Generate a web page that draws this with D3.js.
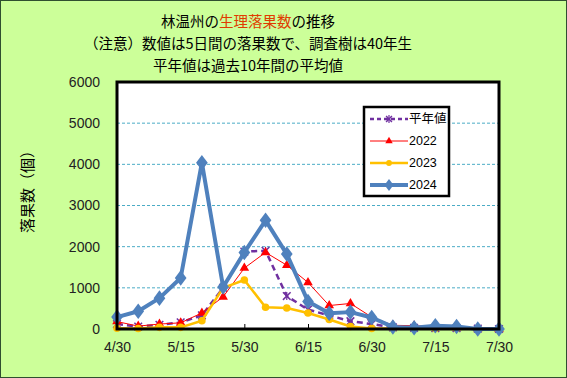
<!DOCTYPE html>
<html>
  <head>
    <meta charset="utf-8">
    <title>林温州の生理落果数の推移</title>
    <style>
    body { margin: 0; }
    svg { display: block; font-family: "Noto Sans CJK JP", "Liberation Sans", sans-serif; }
    .tick text { font-family: "Liberation Sans", Arial, sans-serif; font-size: 14px; fill: #222; }
    </style>
  </head>
  <body>
    <svg width="567" height="378"></svg>
    <script src="https://d3js.org/d3.v7.min.js"></script>
    <script>

      var dates = ["4/30","5/5","5/10","5/15","5/20","5/25","5/30","6/5","6/10","6/15",
                   "6/20","6/25","6/30","7/5","7/10","7/15","7/20","7/25","7/30"];
      var dateLabels = ["4/30","5/15","5/30","6/15","6/30","7/15","7/30"];
      var yTicks = [0, 1000, 2000, 3000, 4000, 5000, 6000];

      var normal = [120, 60, 100, 160, 330, 1000, 1880, 1900, 800, 470, 330, 190, 120, 40, 30, 20, 20, 10, 0];
      var y2022  = [180, 70, 120, 150, 390, 780, 1480, 1860, 1550, 1130, 570, 620, 290, 90, 80, 60, 40, 10, 0];
      var y2023  = [20, 10, 40, 40, 200, 1000, 1190, 530, 510, 390, 230, 60, 15, 10, 10, 10, 10, 5, 0];
      var y2024  = [290, 430, 750, 1240, 4040, 1020, 1860, 2640, 1820, 670, 380, 410, 280, 50, 30, 80, 60, 0, 0];

      var series = [
        {name: "平年値", values: normal, color: "#7030a0", width: 2.5, dash: "6,4", marker: "x"},
        {name: "2022", values: y2022, color: "#ff0000", width: 1, dash: null, marker: "triangle"},
        {name: "2023", values: y2023, color: "#ffc000", width: 2.5, dash: null, marker: "circle"},
        {name: "2024", values: y2024, color: "#4f81bd", width: 4, dash: null, marker: "diamond"}
      ];

      var svg = d3.select("svg"),
          margin = {top: 82, right: 68, bottom: 49, left: 117},
          width = +svg.attr("width") - margin.left - margin.right,
          height = +svg.attr("height") - margin.top - margin.bottom;

      svg.append("rect")
          .attr("x", 0.5).attr("y", 0.5)
          .attr("width", 566).attr("height", 377)
          .attr("fill", "#ccff99")
          .attr("stroke", "#2f4f2f");

      var x = d3.scalePoint().domain(dates).range([0, width]),
          y = d3.scaleLinear().domain([0, 6000]).range([height, 0]);

      var g = svg.append("g")
          .attr("transform", "translate(" + margin.left + "," + margin.top + ")");

      g.append("rect")
          .attr("width", width).attr("height", height)
          .attr("fill", "#fff");

      // grid
      g.selectAll(".grid")
        .data(yTicks.filter(function(d) { return d > 0 && d < 6000; }))
        .enter().append("line")
          .attr("class", "grid")
          .attr("x1", 0).attr("x2", width)
          .attr("y1", function(d) { return y(d); })
          .attr("y2", function(d) { return y(d); })
          .attr("stroke", "#4bacc6")
          .attr("stroke-width", 1)
          .attr("stroke-dasharray", "3,2");

      var xAxis = g.append("g")
          .attr("transform", "translate(0," + height + ")")
          .call(d3.axisBottom(x).tickValues(dateLabels).tickSizeInner(-5).tickSizeOuter(0).tickPadding(13));
      xAxis.select(".domain").remove();
      xAxis.selectAll(".tick line").attr("stroke", "#000");

      var yAxis = g.append("g")
          .call(d3.axisLeft(y).tickValues(yTicks).tickFormat(d3.format("d")).tickSize(0).tickPadding(17));
      yAxis.select(".domain").remove();

      var line = d3.line()
          .x(function(d, i) { return x(dates[i]); })
          .y(function(d) { return y(d); });

      function drawMarker(sel, type, color, size) {
        if (type === "x") {
          sel.append("path")
            .attr("d", d3.symbol().type(d3.symbolTimes).size(size)())
            .attr("fill", "none").attr("stroke", color).attr("stroke-width", 1.5);
          sel.append("path")
            .attr("d", "M0,-4V4")
            .attr("stroke", color).attr("stroke-width", 1.2);
        } else {
          var t = type === "triangle" ? d3.symbolTriangle : type === "circle" ? d3.symbolCircle : d3.symbolDiamond;
          sel.append("path")
            .attr("d", d3.symbol().type(t).size(size)())
            .attr("transform", type === "diamond" ? "scale(1.3,1)" : null)
            .attr("fill", color);
        }
      }

      var sizes = {x: 40, triangle: 40, circle: 45, diamond: 70};

      series.forEach(function(s) {
        g.append("path")
            .datum(s.values)
            .attr("fill", "none")
            .attr("stroke", s.color)
            .attr("stroke-width", s.width)
            .attr("stroke-dasharray", s.dash)
            .attr("stroke-linejoin", "round")
            .attr("d", line);

        g.selectAll(null)
          .data(s.values)
          .enter().append("g")
            .attr("transform", function(d, i) { return "translate(" + x(dates[i]) + "," + y(d) + ")"; })
            .each(function() { drawMarker(d3.select(this), s.marker, s.color, sizes[s.marker]); });
      });

      g.append("rect")
          .attr("width", width).attr("height", height)
          .attr("fill", "none")
          .attr("stroke", "#000")
          .attr("stroke-width", 3);

      // legend
      var legend = svg.append("g").attr("transform", "translate(364,107)");
      legend.append("rect")
          .attr("width", 85).attr("height", 89)
          .attr("fill", "#fff").attr("stroke", "#000").attr("stroke-width", 2.5);

      series.forEach(function(s, i) {
        var row = legend.append("g").attr("transform", "translate(0," + (12 + i * 22) + ")");
        row.append("line")
            .attr("x1", 6).attr("x2", 44)
            .attr("stroke", s.color)
            .attr("stroke-width", s.width)
            .attr("stroke-dasharray", s.dash ? "4,3" : null);
        var m = row.append("g").attr("transform", "translate(25,0)");
        drawMarker(m, s.marker, s.color, sizes[s.marker] * 0.6);
        row.append("text")
            .attr("x", 45).attr("dy", "0.35em")
            .attr("font-size", 12.5)
            .attr("font-family", i === 0 ? "Noto Sans CJK JP" : "Liberation Sans, Arial, sans-serif")
            .text(s.name);
      });

      // title
      var title = svg.append("text")
          .attr("text-anchor", "middle")
          .attr("font-size", 14.5)
          .attr("fill", "#000");
      var t1 = title.append("tspan").attr("x", 248).attr("y", 27);
      t1.append("tspan").text("林温州の");
      t1.append("tspan").attr("fill", "#e03c00").text("生理落果数");
      t1.append("tspan").text("の推移");
      title.append("tspan").attr("x", 248).attr("y", 49).text("（注意）数値は5日間の落果数で、調査樹は40年生");
      title.append("tspan").attr("x", 248).attr("y", 71).text("平年値は過去10年間の平均値");

      svg.append("text")
          .attr("transform", "translate(33,188) rotate(-90)")
          .attr("text-anchor", "middle")
          .attr("font-size", 15)
          .text("落果数（個）");

    </script>
  </body>
</html>
